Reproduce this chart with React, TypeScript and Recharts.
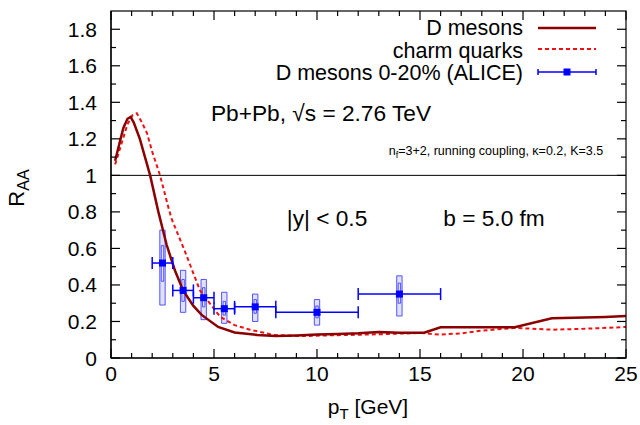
import React from "react";
import {
  ComposedChart,
  Line,
  Scatter,
  XAxis,
  YAxis,
  ErrorBar,
  ReferenceLine,
  ReferenceArea,
} from "recharts";

const FONT = '"Liberation Sans", Arial, Helvetica, sans-serif';

// D mesons (solid, dark red)
const D_PT = [0.2, 0.4, 0.6, 0.8, 0.95, 1.1, 1.4, 1.9, 2.3, 2.7, 3.1, 3.5, 4.0, 4.4, 5.2, 6.0, 7.1, 8.0, 9.0, 10.0, 11.0, 12.0, 13.0, 14.0, 15.2, 16.0, 17.0, 18.0, 19.6, 21.4, 23.0, 24.0, 25.0];
const D_RAA = [1.08, 1.17, 1.26, 1.31, 1.32, 1.29, 1.2, 1.0, 0.8, 0.62, 0.48, 0.37, 0.285, 0.236, 0.17, 0.14, 0.126, 0.12, 0.123, 0.128, 0.132, 0.135, 0.142, 0.138, 0.138, 0.168, 0.168, 0.168, 0.168, 0.218, 0.222, 0.225, 0.23];

// charm quarks (dashed, red)
const C_PT = [0.2, 0.5, 0.8, 1.05, 1.25, 1.5, 1.75, 2.0, 2.38, 2.82, 2.95, 3.6, 4.32, 5.3, 6.0, 6.75, 7.9, 9.2, 11.0, 13.0, 15.0, 16.0, 17.0, 18.0, 19.6, 21.4, 23.0, 25.0];
const C_RAA = [1.06, 1.17, 1.28, 1.33, 1.34, 1.29, 1.23, 1.13, 1.0, 0.81, 0.76, 0.58, 0.37, 0.225, 0.18, 0.155, 0.126, 0.12, 0.125, 0.13, 0.137, 0.128, 0.135, 0.15, 0.165, 0.155, 0.16, 0.17];

// ALICE D mesons 0-20%
const A_PT = [2.5, 3.5, 4.5, 5.5, 7, 10, 14];
const A_RAA = [0.52, 0.37, 0.33, 0.27, 0.28, 0.25, 0.35];
const A_XERR = [0.5, 0.5, 0.5, 0.5, 1, 2, 2];
const A_SYS_LO = [0.29, 0.25, 0.21, 0.19, 0.2, 0.18, 0.23];
const A_SYS_HI = [0.7, 0.48, 0.43, 0.36, 0.35, 0.32, 0.45];
const A_SYS2_LO = [0.42, 0.31, 0.28, 0.235, 0.245, 0.22, 0.3];
const A_SYS2_HI = [0.615, 0.43, 0.385, 0.31, 0.32, 0.285, 0.41];

const X_TICKS = [0, 1, 2, 3, 4, 5, 6, 7, 8, 9, 10, 11, 12, 13, 14, 15, 16, 17, 18, 19, 20, 21, 22, 23, 24, 25];
const Y_TICKS = [0, 0.1, 0.2, 0.3, 0.4, 0.5, 0.6, 0.7, 0.8, 0.9, 1.0, 1.1, 1.2, 1.3, 1.4, 1.5, 1.6, 1.7, 1.8];

const dMesons = D_PT.map((x, i) => ({ x, y: D_RAA[i] }));
const charm = C_PT.map((x, i) => ({ x, y: C_RAA[i] }));
const alice = A_PT.map((x, i) => ({ x, y: A_RAA[i], xe: A_XERR[i] }));

// layout
const W = 640;
const H = 425;
const M_TOP = 11;
const M_RIGHT = 14;
const Y_AXIS_W = 111;
const X_AXIS_H = 67;
const PLOT_LEFT = Y_AXIS_W;
const PLOT_TOP = M_TOP;
const PLOT_RIGHT = W - M_RIGHT;
const PLOT_BOTTOM = H - X_AXIS_H;

const BOX_HALF = 0.13;
const BOX2_HALF = 0.06;

const isMajorX = (v: number) => v % 5 === 0;
const isMajorY = (v: number) => Math.round(v * 10) % 2 === 0;
const fmtY = (v: number) => (v === 0 ? "0" : v === 1 ? "1" : v.toFixed(1));

// bottom ticks, plus the mirrored inward tick on the top frame
const BottomTick = (props: any) => {
  const { x, y, payload } = props;
  const len = isMajorX(payload.value) ? 9 : 5;
  return (
    <g>
      <line x1={x} x2={x} y1={y} y2={y - len} stroke="#000" strokeWidth={1.2} />
      <line x1={x} x2={x} y1={PLOT_TOP} y2={PLOT_TOP + len} stroke="#000" strokeWidth={1.2} />
      {isMajorX(payload.value) && (
        <text x={x} y={y + 23} textAnchor="middle" fill="#000" fontSize={21} fontFamily={FONT}>
          {payload.value}
        </text>
      )}
    </g>
  );
};

// left ticks, plus the mirrored inward tick on the right frame
const LeftTick = (props: any) => {
  const { x, y, payload } = props;
  const len = isMajorY(payload.value) ? 9 : 5;
  return (
    <g>
      <line x1={x} x2={x + len} y1={y} y2={y} stroke="#000" strokeWidth={1.2} />
      <line x1={PLOT_RIGHT} x2={PLOT_RIGHT - len} y1={y} y2={y} stroke="#000" strokeWidth={1.2} />
      {isMajorY(payload.value) && (
        <text x={x - 14} y={y + 7.5} textAnchor="end" fill="#000" fontSize={21} fontFamily={FONT}>
          {fmtY(payload.value)}
        </text>
      )}
    </g>
  );
};

const Square = (props: any) => {
  const { cx, cy } = props;
  return <rect x={cx - 3.5} y={cy - 3.5} width={7} height={7} fill="#0000ff" />;
};

export default function App() {
  return (
    <div style={{ position: "absolute", left: 0, top: 0, width: W, height: H, background: "#fff" }}>
      <ComposedChart width={W} height={H} margin={{ top: M_TOP, right: M_RIGHT, bottom: 0, left: 0 }} style={{ fontFamily: FONT }}>
        <XAxis
          type="number"
          dataKey="x"
          domain={[0, 25]}
          ticks={X_TICKS}
          interval={0}
          tickSize={0}
          tickMargin={0}
          tick={<BottomTick />}
          height={X_AXIS_H}
          axisLine={{ stroke: "#000", strokeWidth: 1.2 }}
          allowDataOverflow
        />
        <YAxis
          type="number"
          dataKey="y"
          domain={[0, 1.9]}
          ticks={Y_TICKS}
          interval={0}
          tickSize={0}
          tickMargin={0}
          tick={<LeftTick />}
          width={Y_AXIS_W}
          axisLine={{ stroke: "#000", strokeWidth: 1.2 }}
          allowDataOverflow
        />
        <ReferenceLine y={1} stroke="#000" strokeWidth={1} />
        {A_PT.map((x, i) => (
          <ReferenceArea
            key={"s" + i}
            x1={x - BOX_HALF}
            x2={x + BOX_HALF}
            y1={A_SYS_LO[i]}
            y2={A_SYS_HI[i]}
            fill="#0000ff"
            fillOpacity={0.12}
            stroke="#3a3aff"
            strokeWidth={1}
            strokeOpacity={0.85}
            ifOverflow="visible"
          />
        ))}
        {A_PT.map((x, i) => (
          <ReferenceArea
            key={"t" + i}
            x1={x - BOX2_HALF}
            x2={x + BOX2_HALF}
            y1={A_SYS2_LO[i]}
            y2={A_SYS2_HI[i]}
            fill="none"
            stroke="#3a3aff"
            strokeWidth={1}
            strokeOpacity={0.85}
            ifOverflow="visible"
          />
        ))}
        <Line
          data={charm}
          dataKey="y"
          type="linear"
          stroke="#ee1111"
          strokeWidth={2}
          strokeDasharray="4 3"
          dot={false}
          activeDot={false}
          isAnimationActive={false}
        />
        <Line
          data={dMesons}
          dataKey="y"
          type="linear"
          stroke="#8b0000"
          strokeWidth={2.5}
          dot={false}
          activeDot={false}
          isAnimationActive={false}
        />
        <Scatter data={alice} dataKey="y" shape={<Square />} isAnimationActive={false}>
          <ErrorBar dataKey="xe" direction="x" width={6} stroke="#0000ff" strokeWidth={1.5} />
        </Scatter>
      </ComposedChart>
      <svg
        width={W}
        height={H}
        style={{ position: "absolute", left: 0, top: 0, pointerEvents: "none", fontFamily: FONT }}
      >
        {/* plot frame */}
        <rect
          x={PLOT_LEFT}
          y={PLOT_TOP}
          width={PLOT_RIGHT - PLOT_LEFT}
          height={PLOT_BOTTOM - PLOT_TOP}
          fill="none"
          stroke="#000"
          strokeWidth={1.2}
        />

        {/* legend */}
        <g fontSize={21.5} fill="#000">
          <text x={523} y={34.5} textAnchor="end">D mesons</text>
          <text x={523} y={57.5} textAnchor="end">charm quarks</text>
          <text x={523} y={80} textAnchor="end">D mesons 0-20% (ALICE)</text>
        </g>
        <line x1={538} x2={596} y1={28} y2={28} stroke="#8b0000" strokeWidth={2.5} />
        <line x1={538} x2={596} y1={49} y2={49} stroke="#ee1111" strokeWidth={2} strokeDasharray="4 3" />
        <line x1={538} x2={596} y1={72} y2={72} stroke="#0000ff" strokeWidth={1.5} />
        <line x1={538} x2={538} y1={69} y2={75} stroke="#0000ff" strokeWidth={1.5} />
        <line x1={596} x2={596} y1={69} y2={75} stroke="#0000ff" strokeWidth={1.5} />
        <rect x={563.5} y={68.5} width={7} height={7} fill="#0000ff" />

        {/* annotations */}
        <text x={321} y={121} textAnchor="middle" fontSize={22.7} fill="#000">
          Pb+Pb, √s = 2.76 TeV
        </text>
        <text x={496} y={155} textAnchor="middle" fontSize={12.5} fill="#000">
          n<tspan fontSize={9} dy={3}>f</tspan>
          <tspan dy={-3}>=3+2, running coupling, κ=0.2, K=3.5</tspan>
        </text>
        <text x={327} y={226} textAnchor="middle" fontSize={22.7} fill="#000">
          |y| &lt; 0.5
        </text>
        <text x={494} y={226} textAnchor="middle" fontSize={22.7} fill="#000">
          b = 5.0 fm
        </text>

        {/* axis titles */}
        <text x={24} y={188} textAnchor="middle" fontSize={22} fill="#000" transform="rotate(-90 24 188)">
          R<tspan fontSize={16} dy={5}>AA</tspan>
        </text>
        <text x={368} y={414} textAnchor="middle" fontSize={21} fill="#000">
          p<tspan fontSize={15} dy={5}>T</tspan>
          <tspan dy={-5}> [GeV]</tspan>
        </text>
      </svg>
    </div>
  );
}
